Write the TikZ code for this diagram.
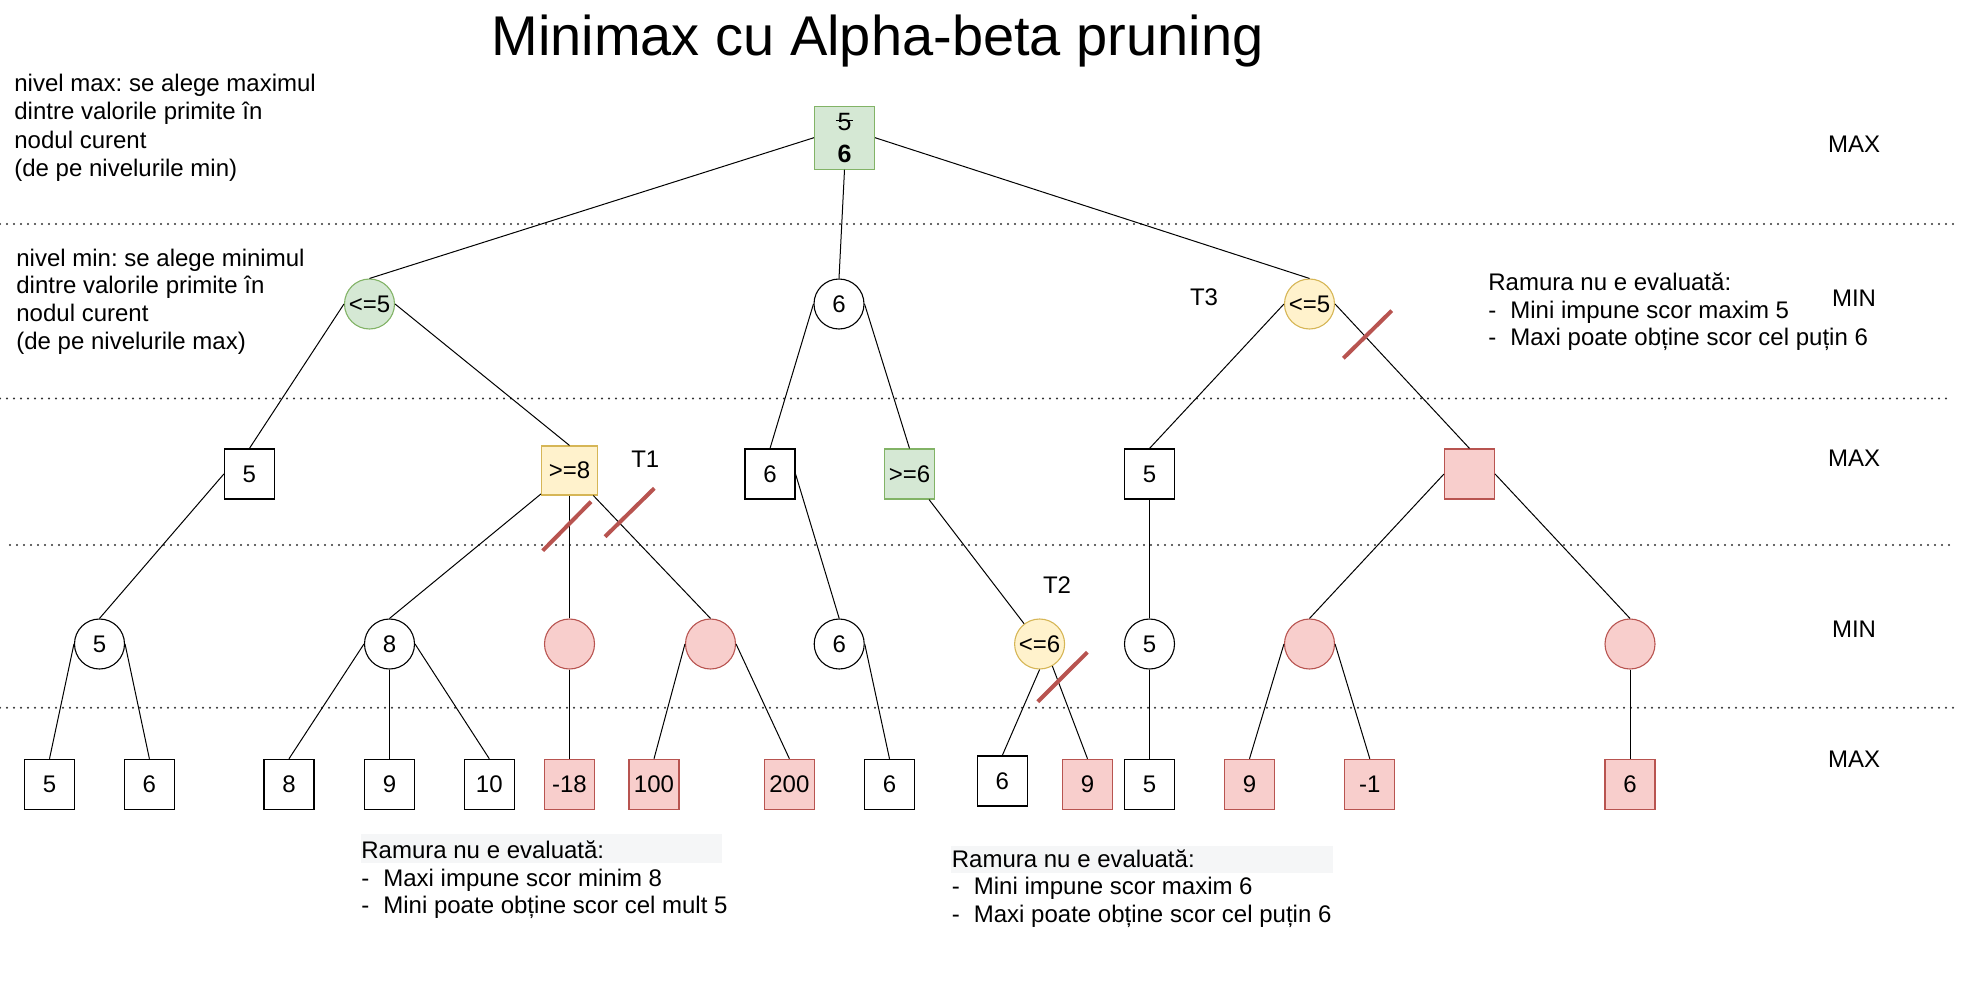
\documentclass[tikz,border=0pt]{standalone}
\usepackage{fontspec}
\setmainfont{Liberation Sans}
\frenchspacing
\definecolor{gfill}{HTML}{D5E8D4}
\definecolor{gline}{HTML}{82B366}
\definecolor{yfill}{HTML}{FFF2CC}
\definecolor{yline}{HTML}{D6B656}
\definecolor{rfill}{HTML}{F8CECC}
\definecolor{rline}{HTML}{B85450}
\definecolor{hlgray}{HTML}{F5F6F7}
\begin{document}
\frenchspacing
\begin{tikzpicture}[x=0.5pt,y=-0.5pt,
  every node/.style={font=\fontsize{12}{14}\selectfont},
  basebox/.style={draw, line width=0.55pt, inner sep=0pt, text=black},
  sq/.style={basebox, rectangle, minimum width=25pt, minimum height=25pt},
  ci/.style={basebox, circle, minimum size=25pt},
  nwhite/.style={fill=white, draw=black},
  ngreen/.style={fill=gfill, draw=gline},
  nyellow/.style={fill=yfill, draw=yline},
  nred/.style={fill=rfill, draw=rline},
  conn/.style={line width=0.5pt, draw=black},
  sepline/.style={line width=1.1pt, dash pattern=on 0pt off 3.5pt, line cap=round, draw=black!80},
  cutmark/.style={line width=2pt, draw=rline},
  txt/.style={anchor=base west, inner sep=0pt},
  lvl/.style={inner sep=0pt},
  dashitem/.style={txt}
]
\useasboundingbox (0,0) rectangle (1964,995);

% title
\node[anchor=base, inner sep=0pt, font=\fontsize{28}{32}\selectfont] (title) at (877.5,55.5) {Minimax cu Alpha-beta pruning};

% level separators
\draw[sepline] (0,224) -- (1956,224);
\draw[sepline] (0,398.5) -- (1948,398.5);
\draw[sepline] (10,545) -- (1956,545);
\draw[sepline] (0,707.7) -- (1956,707.7);

% highlight bands
\fill[hlgray] (361,834) rectangle (722,863);
\fill[hlgray] (951,846) rectangle (1333,873);

% left explanations
\node[txt] (l1a) at (14,91.5) {nivel max: se alege maximul};
\node[txt] (l1b) at (14,119.8) {dintre valorile primite în};
\node[txt] (l1c) at (14,148.1) {nodul curent};
\node[txt] (l1d) at (14,176.4) {(de pe nivelurile min)};
\node[txt] (l2a) at (16,266) {nivel min: se alege minimul};
\node[txt] (l2b) at (16,293.7) {dintre valorile primite în};
\node[txt] (l2c) at (16,321.4) {nodul curent};
\node[txt] (l2d) at (16,349) {(de pe nivelurile max)};

% level labels
\node[lvl] (m1) at (1854,144) {MAX};
\node[lvl] (m2) at (1854,298) {MIN};
\node[lvl] (m3) at (1854,458.5) {MAX};
\node[lvl] (m4) at (1854,629) {MIN};
\node[lvl] (m5) at (1854,759) {MAX};

% T labels
\node[lvl] (T1) at (645.3,459) {T1};
\node[lvl] (T2) at (1057,585) {T2};
\node[lvl] (T3) at (1204,297) {T3};

% root
\node[sq, ngreen, minimum width=30pt, minimum height=31.5pt] (R) at (844.5,137.7) {};
\node[inner sep=0pt, font=\fontsize{12.5}{14}\selectfont] (R5) at (844.5,121.7) {5};
\node[inner sep=0pt, font=\fontsize{12.5}{14}\selectfont\bfseries] (R6) at (844.5,154.3) {6};
\draw[line width=0.6pt] ([xshift=-0.6pt,yshift=0.4pt]R5.west) -- ([xshift=0.6pt,yshift=0.4pt]R5.east);

% level 1 (MIN)
\node[ci, ngreen] (A1) at (369.5,304) {<=5};
\node[ci, nwhite] (A2) at (839,304) {6};
\node[ci, nyellow] (A3) at (1309.5,304) {<=5};

% level 2 (MAX)
\node[sq, nwhite] (B1) at (249.4,474) {5};
\node[sq, nyellow, minimum width=28pt, minimum height=24.5pt] (B2) at (569.5,470.5) {>=8};
\node[sq, nwhite] (B3) at (770,474) {6};
\node[sq, ngreen] (B4) at (909.5,474) {>=6};
\node[sq, nwhite] (B5) at (1149.5,474) {5};
\node[sq, nred] (B6) at (1469.5,474) {};

% level 3 (MIN)
\node[ci, nwhite] (C1) at (99.5,644) {5};
\node[ci, nwhite] (C2) at (389.5,644) {8};
\node[ci, nred] (C3) at (569.5,644) {};
\node[ci, nred] (C4) at (710.5,644) {};
\node[ci, nwhite] (C5) at (839.2,644) {6};
\node[ci, nyellow] (C6) at (1039.6,644) {<=6};
\node[ci, nwhite] (C7) at (1149.5,644) {5};
\node[ci, nred] (C8) at (1309.5,644) {};
\node[ci, nred] (C9) at (1630,644) {};

% leaves (MAX)
\node[sq, nwhite] (L1) at (49.5,784.3) {5};
\node[sq, nwhite] (L2) at (149.4,784.3) {6};
\node[sq, nwhite] (L3) at (289,784.3) {8};
\node[sq, nwhite] (L4) at (389.5,784.3) {9};
\node[sq, nwhite] (L5) at (489.3,784.3) {10};
\node[sq, nred] (L6) at (569.5,784.3) {-18};
\node[sq, nred] (L7) at (654,784.3) {100};
\node[sq, nred] (L8) at (789.4,784.3) {200};
\node[sq, nwhite] (L9) at (889.5,784.3) {6};
\node[sq, nwhite] (L10) at (1002.3,781) {6};
\node[sq, nred] (L11) at (1087.5,784.3) {9};
\node[sq, nwhite] (L12) at (1149.5,784.3) {5};
\node[sq, nred] (L13) at (1249.5,784.3) {9};
\node[sq, nred] (L14) at (1369.8,784.3) {-1};
\node[sq, nred] (L15) at (1630,784.3) {6};

% connectors
\draw[conn] (R.west) -- (A1.north);
\draw[conn] (R.south) -- (A2.north);
\draw[conn] (R.east) -- (A3.north);
\draw[conn] (A1.west) -- (B1.north);
\draw[conn] (A1.east) -- (B2.north);
\draw[conn] (A2.west) -- (B3.north);
\draw[conn] (A2.east) -- (B4.north);
\draw[conn] (A3.west) -- (B5.north);
\draw[conn] (A3.east) -- (B6.north);
\draw[conn] (B1.west) -- (C1.north);
\draw[conn] (B2) -- (C2.north);
\draw[conn] (B2.south) -- (C3.north);
\draw[conn] (B2) -- (C4.north);
\draw[conn] (B3.east) -- (C5.north);
\draw[conn] (B4) -- (C6);
\draw[conn] (B5.south) -- (C7.north);
\draw[conn] (B6.west) -- (C8.north);
\draw[conn] (B6.east) -- (C9.north);
\draw[conn] (C1.west) -- (L1.north);
\draw[conn] (C1.east) -- (L2.north);
\draw[conn] (C2.west) -- (L3.north);
\draw[conn] (C2.south) -- (L4.north);
\draw[conn] (C2.east) -- (L5.north);
\draw[conn] (C3.south) -- (L6.north);
\draw[conn] (C4.west) -- (L7.north);
\draw[conn] (C4.east) -- (L8.north);
\draw[conn] (C5.east) -- (L9.north);
\draw[conn] (C6.south) -- (L10.north);
\draw[conn] (C6.-60) -- (L11.north);
\draw[conn] (C7.south) -- (L12.north);
\draw[conn] (C8.west) -- (L13.north);
\draw[conn] (C8.east) -- (L14.north);
\draw[conn] (C9.south) -- (L15.north);

% pruning marks
\draw[cutmark] (542.7,550.7) -- (591,501.7);
\draw[cutmark] (605,536.7) -- (654.3,488.3);
\draw[cutmark] (1037.7,701.7) -- (1087.3,652.3);
\draw[cutmark] (1343.3,358.3) -- (1391.7,310.7);

% right explanation
\node[txt] (r1) at (1488,290) {Ramura nu e evaluată:};
\node[dashitem] (r2) at (1488,318) {\makebox[11pt][l]{-}Mini impune scor maxim 5};
\node[dashitem] (r3) at (1488,345.5) {\makebox[11pt][l]{-}Maxi poate obține scor cel puțin 6};

% bottom explanations
\node[txt] (b1) at (361,858.5) {Ramura nu e evaluată:};
\node[dashitem] (b2) at (361,886) {\makebox[11pt][l]{-}Maxi impune scor minim 8};
\node[dashitem] (b3) at (361,913.5) {\makebox[11pt][l]{-}Mini poate obține scor cel mult 5};
\node[txt] (c1) at (951.5,867) {Ramura nu e evaluată:};
\node[dashitem] (c2) at (951.5,894) {\makebox[11pt][l]{-}Mini impune scor maxim 6};
\node[dashitem] (c3) at (951.5,922) {\makebox[11pt][l]{-}Maxi poate obține scor cel puțin 6};
\end{tikzpicture}
\end{document}
